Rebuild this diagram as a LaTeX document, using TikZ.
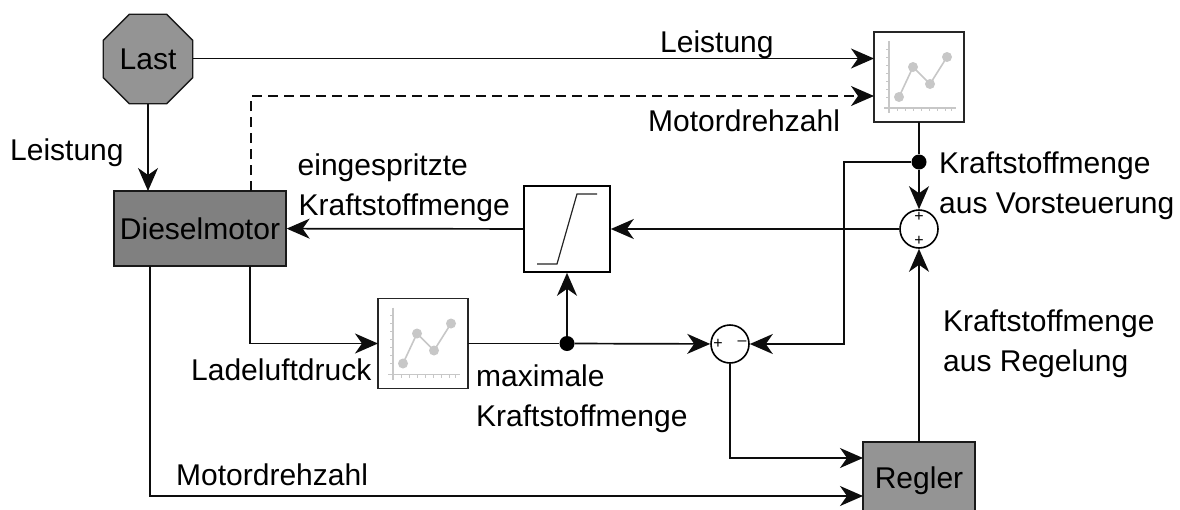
\documentclass[tikz,border=0pt]{standalone}
\usepackage{fontspec}
\setmainfont{Liberation Sans}
\usetikzlibrary{arrows.meta,shapes.geometric}
\tikzset{
 x=1pt,y=-1pt,
 ln/.style={line width=1.7pt,black!95},
 ar/.style={ln,-{Stealth[length=23pt,width=20pt,inset=7pt]}},
 lbl/.style={font=\fontsize{30}{36}\selectfont,inner sep=0pt,align=left},
 chartbox/.style={draw=black!85,line width=1.6pt,fill=white,minimum size=90pt,inner sep=0pt},
 dot/.style={circle,fill=black,minimum size=15pt,inner sep=0pt},
 sumc/.style={circle,draw=black,line width=1.6pt,fill=white,minimum size=38pt,inner sep=0pt},
 grayln/.style={line width=1.6pt,black!22},
}
\newcommand{\chartpic}[2]{%
 \begin{scope}[shift={(#1,#2)}]
  \draw[grayln] (-30,-36)--(-30,36) (-35,31)--(37,31);
  \draw[grayln,line width=1pt] \foreach \y in {-28,-20,-12,-4,4,12,20}{(-33,\y)--(-30,\y)} \foreach \x in {-22,-14,-6,2,10,18,26,32}{(\x,31)--(\x,34)};
  \draw[grayln] (-20,20) -- (-6,-10) -- (11,7) -- (28,-20);
  \foreach \p in {(-20,20),(-6,-10),(11,7),(28,-20)} \fill[black!22] \p circle (5);
 \end{scope}}
\begin{document}
\begin{tikzpicture}
\useasboundingbox (0,0) rectangle (1180,509);
\node[regular polygon,regular polygon sides=8,draw=black!90,line width=1.3pt,fill=black!42,minimum size=97pt,inner sep=0pt,lbl] (last) at (148,59) {Last};
\node[draw=black!90,line width=1.3pt,fill=black!50,minimum width=172pt,minimum height=75pt,inner sep=0pt,lbl] (diesel) at (200,228.5) {Dieselmotor};
\node[chartbox] (c1) at (919,77) {};
\chartpic{919}{77}
\node[chartbox] (c2) at (423,343.5) {};
\chartpic{423}{343.5}
\node[draw=black,line width=1.6pt,fill=white,minimum size=86pt,inner sep=0pt] (lim) at (567,229) {};
\draw[line width=1.2pt,black!85] (537,264)--(557,264)--(577,194)--(597,194);
\node[dot] (d1) at (919,162) {};
\node[dot] (d2) at (567,343.5) {};
\node[sumc] (s1) at (919,229) {};
\node[font=\fontsize{16}{16}\selectfont,inner sep=0pt] (s1a) at (919,217) {+};
\node[font=\fontsize{16}{16}\selectfont,inner sep=0pt] (s1b) at (919,241) {+};
\node[sumc] (s2) at (730,344) {};
\node[font=\fontsize{16}{16}\selectfont,inner sep=0pt] (s2a) at (718,344) {+};
\node[font=\fontsize{16}{16}\selectfont,inner sep=0pt] (s2b) at (742,343) {--};
\node[draw=black!90,line width=1.3pt,fill=black!42,minimum width=112pt,minimum height=76pt,inner sep=0pt] (reg) at (919,480) {};
\node[lbl] (regt) at (919,481) {Regler};
\coordinate (a1) at (874,58.5);
\coordinate (a2) at (874,96);
\coordinate (b1) at (251,96);
\coordinate (b2) at (251,191);
\coordinate (e1) at (250,266);
\coordinate (e2) at (250,343.5);
\coordinate (f1) at (150,266);
\coordinate (f2) at (150,496);
\coordinate (g1) at (844,162);
\coordinate (g2) at (844,344);
\coordinate (h1) at (730,458);
\coordinate (h2) at (863,458);
\coordinate (h3) at (863,496);
\coordinate (i1) at (919,122);
\coordinate (i2) at (919,442);
\coordinate (j1) at (193,58.5);
\coordinate (k1) at (148,191);
\coordinate (m1) at (468,343.5);
\coordinate (m2) at (378,343.5);
\draw[ar] (j1) -- (a1);
\draw[ar,dash pattern=on 10pt off 6pt] (b2) -- (b1) -- (a2);
\draw[ar] (last) -- (k1);
\draw[ln] (i1) -- (d1);
\draw[ar] (d1) -- (s1);
\draw[ar] (s1) -- (lim);
\draw[ar] (lim) -- (diesel);
\draw[ar] (d2) -- (lim);
\draw[ln] (m1) -- (d2);
\draw[ar] (d2) -- (s2);
\draw[ar] (e1) -- (e2) -- (m2);
\draw[ar] (i2) -- (s1);
\draw[ar] (d1) -- (g1) -- (g2) -- (s2);
\draw[ar] (s2) -- (h1) -- (h2);
\draw[ar] (f1) -- (f2) -- (h3);
\node[lbl,anchor=base west] (t1) at (660,52) {Leistung};
\node[lbl,anchor=base west] (t2) at (648,131) {Motordrehzahl};
\node[lbl,anchor=base west] (t3) at (10,160) {Leistung};
\node[lbl,anchor=base east] (t4) at (468,175) {eingespritzte};
\node[lbl,anchor=base east] (t5) at (510,215) {Kraftstoffmenge};
\node[lbl,anchor=base west] (t6) at (939,173) {Kraftstoffmenge};
\node[lbl,anchor=base west] (t7) at (939,213) {aus Vorsteuerung};
\node[lbl,anchor=base west] (t8) at (943,331) {Kraftstoffmenge};
\node[lbl,anchor=base west] (t9) at (943,371) {aus Regelung};
\node[lbl,anchor=base west] (t10) at (191,380) {Ladeluftdruck};
\node[lbl,anchor=base west] (t11) at (476,386) {maximale};
\node[lbl,anchor=base west] (t12) at (476,426) {Kraftstoffmenge};
\node[lbl,anchor=base west] (t13) at (176,485) {Motordrehzahl};
\end{tikzpicture}
\end{document}
